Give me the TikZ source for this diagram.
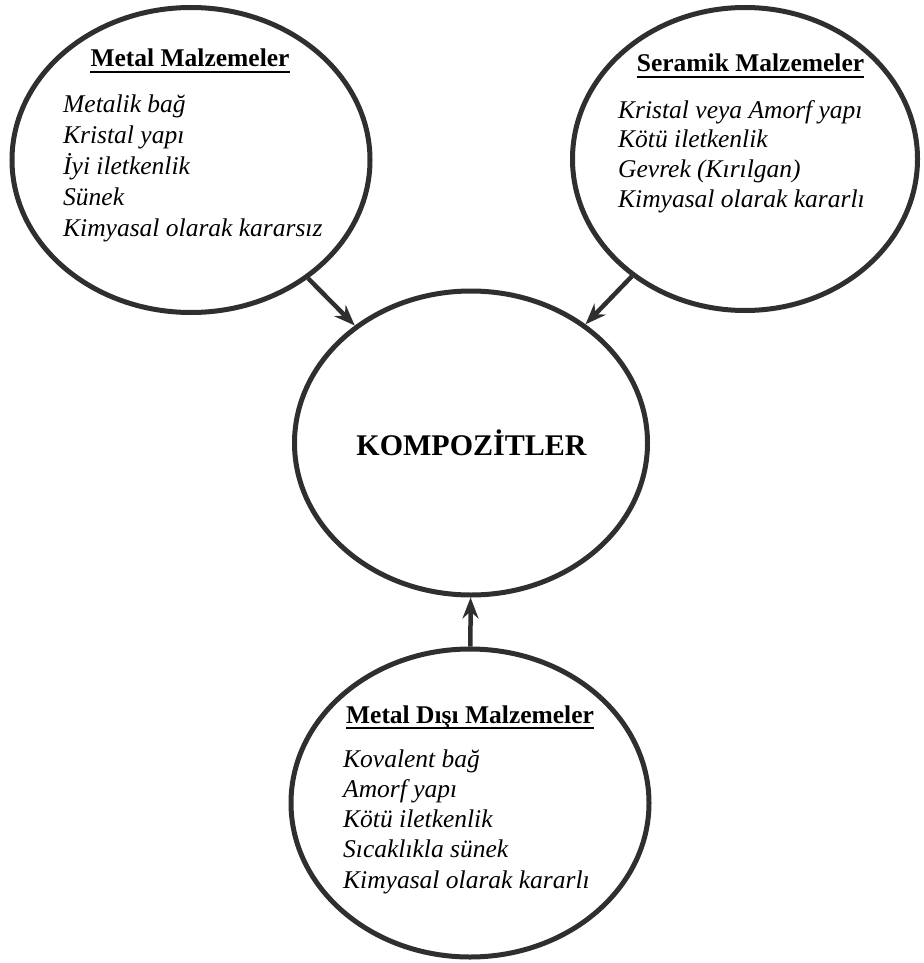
\documentclass[tikz,border=0pt]{standalone}
\usepackage{fontspec}
\setmainfont{Liberation Serif}
\usetikzlibrary{shapes.geometric,arrows.meta}
\definecolor{cizgi}{HTML}{2F2F2F}

\begin{document}
\begin{tikzpicture}[x=1pt,y=-1pt,
  daire/.style={draw=cizgi,line width=5pt,ellipse,inner sep=0pt},
  baslik/.style={font=\bfseries\fontsize{25.5}{30}\selectfont,inner sep=0pt,anchor=base},
  madde/.style={font=\itshape\fontsize{25.5}{30}\selectfont,inner sep=0pt,anchor=base west},
  alti/.style={line width=2.8pt},
  ok/.style={draw=cizgi,line width=4.5pt,-{Stealth[length=21pt,width=16pt,inset=7pt]}}]
\useasboundingbox (0,0) rectangle (923,963);

\node[daire,minimum width=358pt,minimum height=305pt] (metal) at (191,160) {};
\node[daire,minimum width=345pt,minimum height=303pt] (seramik) at (745,159) {};
\node[daire,minimum width=353pt,minimum height=304pt] (komp) at (471,443) {};
\node[daire,minimum width=358pt,minimum height=308pt] (dis) at (470,803) {};

\node[baslik] (hmetal) at (190,67) {Metal Malzemeler};
\draw[alti] ([yshift=-5pt]hmetal.base west) -- ([yshift=-5pt]hmetal.base east);
\foreach \t [count=\i] in {Metalik bağ, Kristal yapı, İyi iletkenlik, Sünek, Kimyasal olarak kararsız}
  \node[madde] (m\i) at (63,{113+30.75*(\i-1)}) {\t};

\node[baslik] (hseramik) at (750.5,72) {Seramik Malzemeler};
\draw[alti] ([yshift=-5pt]hseramik.base west) -- ([yshift=-5pt]hseramik.base east);
\foreach \t [count=\i] in {Kristal veya Amorf yapı, Kötü iletkenlik, Gevrek (Kırılgan), Kimyasal olarak kararlı}
  \node[madde] (s\i) at (618,{118+29.7*(\i-1)}) {\t};

\node[baslik,font=\bfseries\fontsize{30}{36}\selectfont] (hkomp) at (471.5,455) {KOMPOZİTLER};

\node[baslik] (hdis) at (470,723) {Metal Dışı Malzemeler};
\draw[alti] ([yshift=-5pt]hdis.base west) -- ([yshift=-5pt]hdis.base east);
\foreach \t [count=\i] in {Kovalent bağ, Amorf yapı, Kötü iletkenlik, Sıcaklıkla sünek, Kimyasal olarak kararlı}
  \node[madde] (d\i) at (343,{767+30.3*(\i-1)}) {\t};

\draw[ok] (metal) -- (komp);
\draw[ok] (seramik) -- (komp);
\draw[ok] (dis) -- (komp);
\end{tikzpicture}
\end{document}
